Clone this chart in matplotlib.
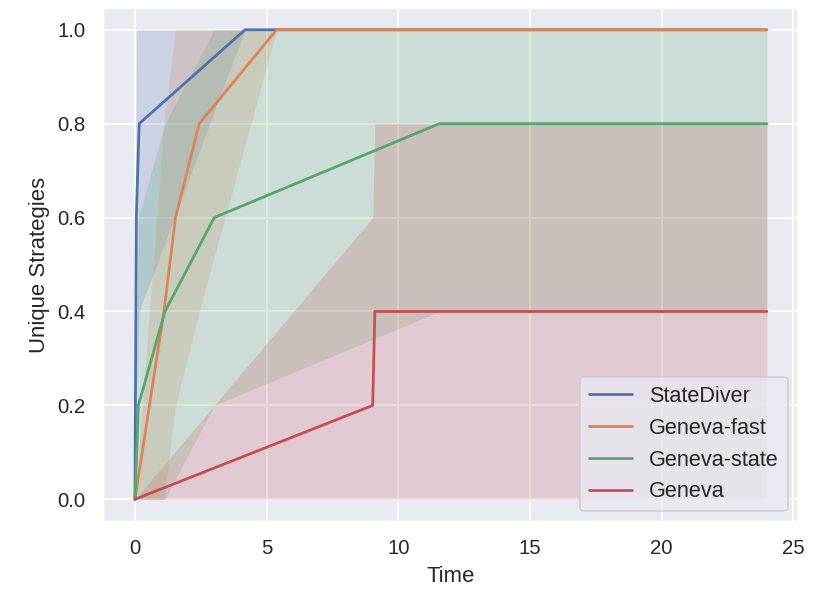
import matplotlib
matplotlib.use("Agg")
import matplotlib.pyplot as plt
import seaborn as sns

OUTPUT_FIG = "out.png"

# mean curve per method, with lower/upper band (mean +- std, clipped to [0, 1])
statediver_t     = [0, 0.05, 0.16, 4.18, 24]
statediver_mean  = [0, 0.6, 0.8, 1.0, 1.0]
statediver_lo    = [0, 0.2, 0.4, 1.0, 1.0]
statediver_hi    = [0, 1.0, 1.0, 1.0, 1.0]

geneva_fast_t    = [0, 1.1, 1.54, 2.44, 5.38, 24]
geneva_fast_mean = [0, 0.4, 0.6, 0.8, 1.0, 1.0]
geneva_fast_lo   = [0, 0, 0.2, 0.4, 1.0, 1.0]
geneva_fast_hi   = [0, 0.8, 1.0, 1.0, 1.0, 1.0]

geneva_state_t    = [0, 0.13, 1.14, 3.01, 11.56, 24]
geneva_state_mean = [0, 0.2, 0.4, 0.6, 0.8, 0.8]
geneva_state_lo   = [0, 0, 0, 0.2, 0.4, 0.4]
geneva_state_hi   = [0, 0.6, 0.8, 1.0, 1.0, 1.0]

geneva_t    = [0, 9.03, 9.11, 24]
geneva_mean = [0, 0.2, 0.4, 0.4]
geneva_lo   = [0, 0, 0, 0]
geneva_hi   = [0, 0.6, 0.8, 0.8]

labels = ["StateDiver", "Geneva-fast", "Geneva-state", "Geneva"]


def main():
    sns.set_theme(style="darkgrid")
    plt.rcParams["font.family"] = ["Liberation Sans", "DejaVu Sans"]
    colors = sns.color_palette("deep")

    series = [
        (statediver_t, statediver_mean, statediver_lo, statediver_hi),
        (geneva_fast_t, geneva_fast_mean, geneva_fast_lo, geneva_fast_hi),
        (geneva_state_t, geneva_state_mean, geneva_state_lo, geneva_state_hi),
        (geneva_t, geneva_mean, geneva_lo, geneva_hi),
    ]

    fig = plt.figure(figsize=(823 / 133, 593 / 133), dpi=133)
    ax = fig.add_axes([0.1256, 0.12, 0.8446, 0.867])

    for (t, m, lo, hi), name, c in zip(series, labels, colors):
        ax.fill_between(t, lo, hi, color=c, alpha=0.2, linewidth=0)
        ax.plot(t, m, color=c, lw=1.5, label=name)

    ax.set_xlim(-1.2, 25.2)
    ax.set_ylim(-0.048, 1.047)
    ax.set_xlabel("Time")
    ax.set_ylabel("Unique Strategies")
    ax.legend(loc="lower right", fontsize=11.7)

    fig.savefig(OUTPUT_FIG, dpi=133)


if __name__ == "__main__":
    main()
